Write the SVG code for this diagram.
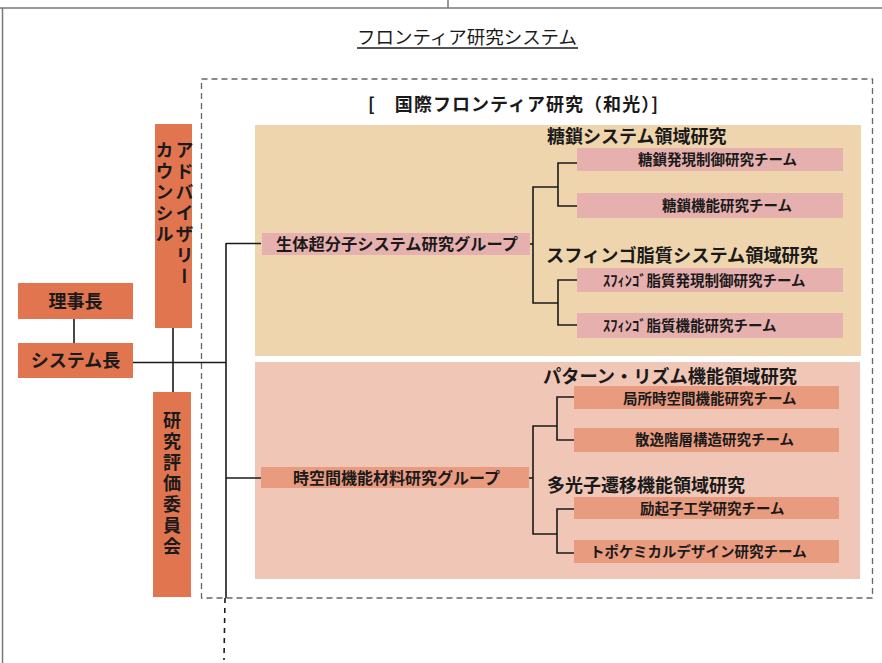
<svg xmlns="http://www.w3.org/2000/svg" width="882" height="663" viewBox="0 0 882 663">
<style>
  text { font-family: "Noto Sans CJK JP", "Noto Sans", sans-serif; fill: #1a1a1a; }
  .b { font-weight: bold; }
  .org { fill: #e1754f; }
  .upanel { fill: #efd5ae; }
  .lpanel { fill: #f0c6b6; }
  .ubox { fill: #e6b0ae; }
  .lbox { fill: #e99b80; }
  .ln { stroke: #1a1a1a; stroke-width: 1.6; fill: none; }
  .hdr { font-size: 18px; font-weight: bold; }
  .team { font-size: 14.5px; font-weight: bold; }
  .grp { font-size: 16px; font-weight: bold; }
  .vt { writing-mode: vertical-rl; font-size: 18px; font-weight: bold; letter-spacing: 3px; }
</style>
<rect width="882" height="663" fill="#ffffff"/>
<!-- page frame -->
<g id="frame" stroke="#777" stroke-width="1.5" fill="none">
  <line x1="0" y1="8" x2="882" y2="8"/>
  <line x1="2.5" y1="8" x2="2.5" y2="663"/>
  <line x1="448" y1="0" x2="448" y2="8"/>
</g>
<g id="title">
  <text x="467" y="44" font-size="18" text-anchor="middle" textLength="220" lengthAdjust="spacingAndGlyphs">フロンティア研究システム</text>
  <line x1="357" y1="48" x2="578" y2="48" stroke="#1a1a1a" stroke-width="1.3"/>
</g>
<!-- dashed frame -->
<rect id="frontier-frame" x="201.5" y="79" width="671" height="519" fill="none" stroke="#666" stroke-width="1.3" stroke-dasharray="6,4"/>
<g id="subtitle">
  <text x="368" y="111" font-size="18" class="b" textLength="290" lengthAdjust="spacing">[　国際フロンティア研究（和光）]</text>
</g>
<!-- panels -->
<rect id="upper-panel" class="upanel" x="255" y="125" width="606" height="231"/>
<rect id="lower-panel" class="lpanel" x="255" y="362" width="605" height="217"/>

<!-- connectors -->
<g id="connectors">
  <line class="ln" x1="74" y1="319" x2="74" y2="343"/>
  <line class="ln" x1="133" y1="362.5" x2="226" y2="362.5"/>
  <line class="ln" x1="173" y1="328" x2="173" y2="392"/>
  <line class="ln" x1="226" y1="243" x2="226" y2="598"/>
  <line class="ln" x1="225" y1="598" x2="224" y2="660" stroke-width="2" stroke-dasharray="5,5"/>
  <line class="ln" x1="226" y1="243.5" x2="261" y2="243.5"/>
  <line class="ln" x1="226" y1="478" x2="261" y2="478"/>
  <!-- upper bracket -->
  <line class="ln" x1="530" y1="244" x2="533" y2="244"/>
  <polyline class="ln" points="558,187 533,187 533,303 558,303"/>
  <polyline class="ln" points="577,163 558,163 558,206 577,206"/>
  <polyline class="ln" points="577,280 558,280 558,325 577,325"/>
  <!-- lower bracket -->
  <line class="ln" x1="529" y1="478" x2="533" y2="478"/>
  <polyline class="ln" points="557,426 533,426 533,534 557,534"/>
  <polyline class="ln" points="574,397 557,397 557,440 574,440"/>
  <polyline class="ln" points="574,509 557,509 557,553 574,553"/>
</g>

<!-- left nodes -->
<g id="rijicho">
  <rect class="org" x="18" y="283" width="115" height="36"/>
  <text x="75.5" y="307.5" font-size="18" class="b" text-anchor="middle">理事長</text>
</g>
<g id="system-cho">
  <rect class="org" x="18" y="343" width="115" height="35"/>
  <text x="75.5" y="367" font-size="18" class="b" text-anchor="middle">システム長</text>
</g>
<g id="advisory-council">
  <rect class="org" x="155" y="124" width="37" height="204"/>
  <text class="vt" x="184.5" y="141">アドバイザリー</text>
  <text class="vt" x="164.5" y="141">カウンシル</text>
</g>
<g id="evaluation-committee">
  <rect class="org" x="153" y="392" width="38" height="205"/>
  <text class="vt" x="172" y="411">研究評価委員会</text>
</g>

<!-- upper group -->
<g id="group-biosupramolecular">
  <rect class="ubox" x="262" y="233" width="268" height="22"/>
  <text class="grp" x="276" y="250" textLength="242" lengthAdjust="spacingAndGlyphs">生体超分子システム研究グループ</text>
</g>
<g id="area-glycan">
  <text class="hdr" x="547" y="143">糖鎖システム領域研究</text>
</g>
<g id="team-glycan-expression">
  <rect class="ubox" x="577" y="148" width="266" height="23"/>
  <text class="team" x="638" y="165">糖鎖発現制御研究チーム</text>
</g>
<g id="team-glycan-function">
  <rect class="ubox" x="577" y="193" width="266" height="25"/>
  <text class="team" x="662" y="210.5">糖鎖機能研究チーム</text>
</g>
<g id="area-sphingolipid">
  <text class="hdr" x="546" y="262" textLength="272" lengthAdjust="spacingAndGlyphs">スフィンゴ脂質システム領域研究</text>
</g>
<g id="team-sphingo-expression">
  <rect class="ubox" x="577" y="268" width="266" height="24"/>
  <text class="team" x="603" y="285.5">ｽﾌｨﾝｺﾞ脂質発現制御研究チーム</text>
</g>
<g id="team-sphingo-function">
  <rect class="ubox" x="577" y="313" width="266" height="25"/>
  <text class="team" x="603" y="330.5">ｽﾌｨﾝｺﾞ脂質機能研究チーム</text>
</g>

<!-- lower group -->
<g id="group-spatiotemporal">
  <rect class="lbox" x="261" y="467" width="268" height="21"/>
  <text class="grp" x="293" y="483.5" textLength="207" lengthAdjust="spacingAndGlyphs">時空間機能材料研究グループ</text>
</g>
<g id="area-pattern-rhythm">
  <text class="hdr" x="543" y="383" font-size="17.5" textLength="254" lengthAdjust="spacingAndGlyphs">パターン・リズム機能領域研究</text>
</g>
<g id="team-local-spatiotemporal">
  <rect class="lbox" x="574" y="386" width="265" height="23"/>
  <text class="team" x="623" y="403.5" font-size="14px">局所時空間機能研究チーム</text>
</g>
<g id="team-dissipative">
  <rect class="lbox" x="574" y="428" width="265" height="24"/>
  <text class="team" x="635" y="445">散逸階層構造研究チーム</text>
</g>
<g id="area-multiphoton">
  <text class="hdr" x="547" y="492">多光子遷移機能領域研究</text>
</g>
<g id="team-exciton">
  <rect class="lbox" x="574" y="497" width="265" height="22"/>
  <text class="team" x="640" y="513.5">励起子工学研究チーム</text>
</g>
<g id="team-topochemical">
  <rect class="lbox" x="574" y="540" width="265" height="23"/>
  <text class="team" x="590" y="556.5">トポケミカルデザイン研究チーム</text>
</g>
</svg>
